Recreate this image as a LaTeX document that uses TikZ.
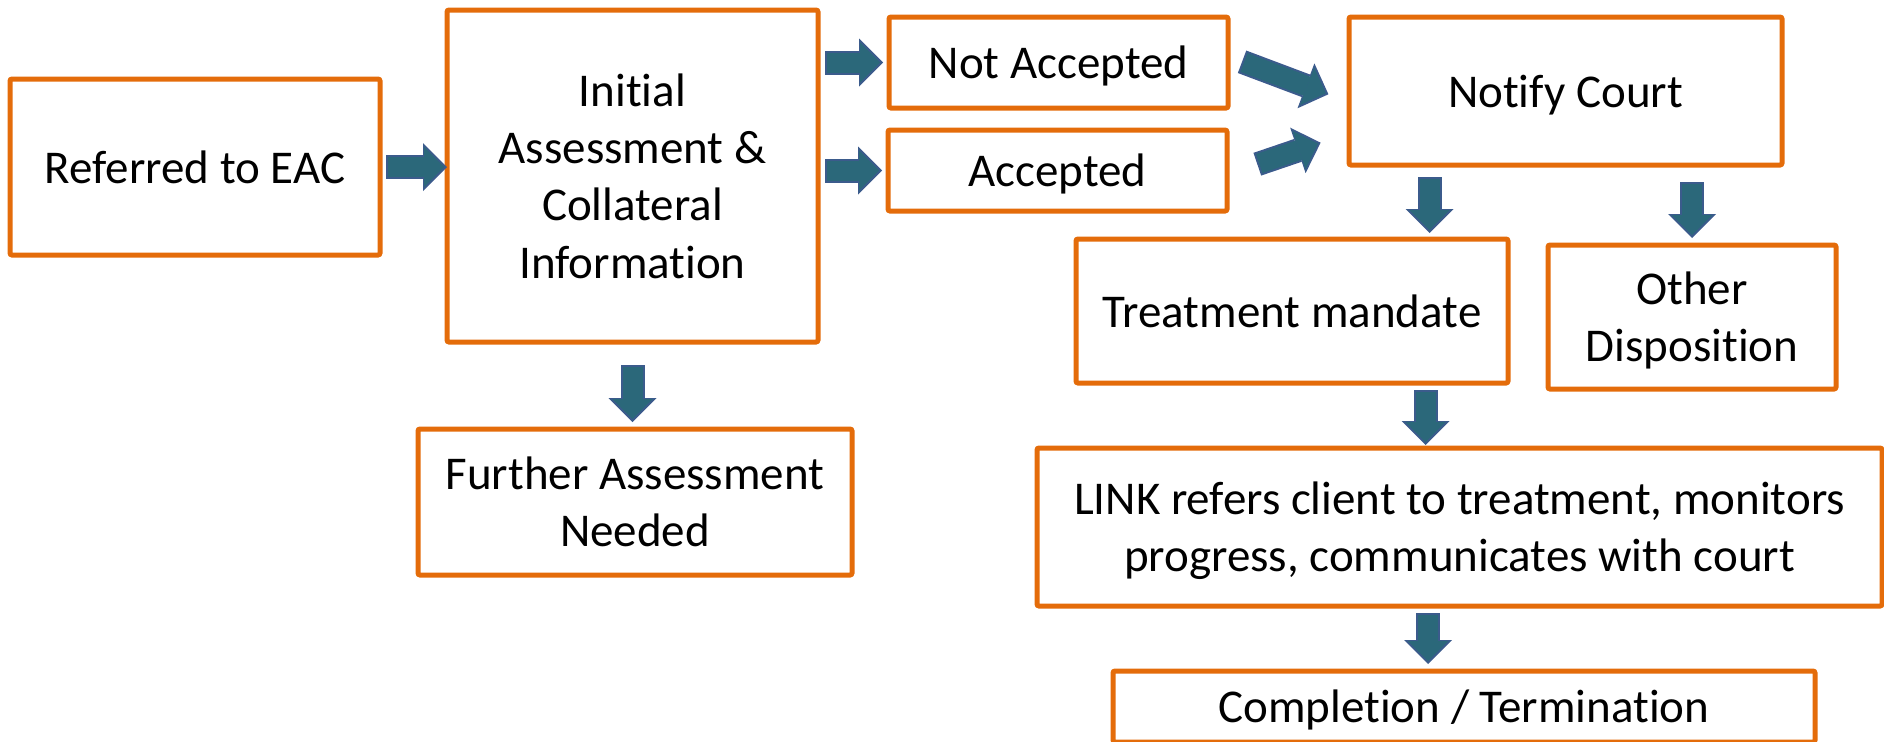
\documentclass[tikz,border=0pt]{standalone}
\usepackage{fontspec}
\setmainfont{Carlito}[Ligatures=NoCommon]
\usetikzlibrary{arrows.meta}

\definecolor{boxorange}{RGB}{228,108,10}
\definecolor{arrowteal}{RGB}{43,104,122}
\definecolor{arrowblue}{RGB}{59,91,140}

\tikzset{
  stage/.style={draw=boxorange,line width=2.5pt,rounded corners=1pt,outer sep=0pt,
    inner sep=0pt,text depth=0pt,align=center,font=\fontsize{23.5pt}{28.6pt}\selectfont},
  blockarrow/.style 2 args={draw=arrowblue,line width=12pt,shorten <=#1,shorten >=#2,
    -{Triangle[width=24pt,length=12pt,line width=0pt]},
    postaction={draw=arrowteal,line width=10pt,shorten <=#1+1pt,shorten >=#2+1.4pt,
      -{Triangle[width=20pt,length=10pt,line width=0pt]}}}
}

\begin{document}
\begin{tikzpicture}[x=0.5pt,y=-0.5pt]
  \useasboundingbox (0,0) rectangle (1884,741);
  \node (refer) [stage,minimum width=185pt,minimum height=88pt] at (195,167) {Referred to EAC};
  \node (initial) [stage,minimum width=185.5pt,minimum height=166pt] at (632.5,176) {Initial\\Assessment \&\\Collateral\\Information};
  \node (further) [stage,minimum width=217pt,minimum height=73pt] at (635,502) {Further Assessment\\Needed};
  \node (notacc) [stage,minimum width=169.5pt,minimum height=45.5pt] at (1058.5,62.5) {Not Accepted};
  \node (acc) [stage,minimum width=169.5pt,minimum height=40.5pt] at (1057.5,170.5) {Accepted};
  \node (notify) [stage,minimum width=216.5pt,minimum height=74pt] at (1565.5,91) {Notify Court};
  \node (treat) [stage,minimum width=216pt,minimum height=72pt] at (1292,311) {Treatment mandate};
  \node (other) [stage,minimum width=144pt,minimum height=72pt] at (1692,317) {Other\\Disposition};
  \node (link) [stage,minimum width=422.5pt,minimum height=79pt] at (1459.5,527) {LINK refers client to treatment, monitors\\progress, communicates with court};
  \node (comp) [stage,minimum width=351pt,minimum height=35.5pt] at (1464,706.5) {Completion / Termination};

  \draw[blockarrow={3pt}{0pt}] (refer.east) -- (refer.east -| initial.west);
  \draw[blockarrow={3.5pt}{3pt}] (initial.east |- notacc.west) -- (notacc.west);
  \draw[blockarrow={3.5pt}{3pt}] (initial.east |- acc.west) -- (acc.west);
  \draw[blockarrow={7.5pt}{11pt}] ([yshift=3pt]notacc.east) -- ([yshift=-5.5pt]notify.west);
  \draw[blockarrow={16pt}{15pt}] ([yshift=-2pt]acc.east) -- ([yshift=-21pt]notify.west);
  \draw[blockarrow={6pt}{3pt}] ([xshift=-68pt]notify.south) -- ([xshift=-68pt]notify.south |- treat.north);
  \draw[blockarrow={8.5pt}{3.5pt}] (other.north |- notify.south) -- (other.north);
  \draw[blockarrow={3.5pt}{1.5pt}] ([xshift=-17pt]link.north |- treat.south) -- ([xshift=-17pt]link.north);
  \draw[blockarrow={3.5pt}{3.5pt}] ([xshift=-18pt]comp.north |- link.south) -- ([xshift=-18pt]comp.north);
  \draw[blockarrow={11.5pt}{3.5pt}] (initial.south) -- (initial.south |- further.north);
\end{tikzpicture}
\end{document}
